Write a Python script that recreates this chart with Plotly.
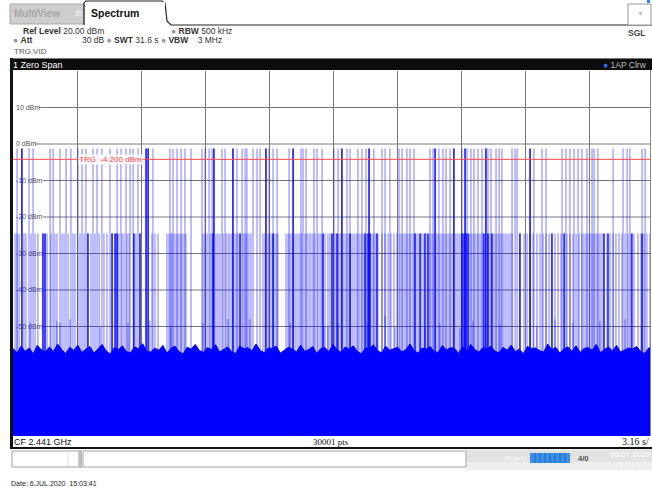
import plotly.graph_objects as go

W, H = 652, 495

# ---------------- data (time in s, level in dBm) ----------------
SWEEP_TIME = 31.6
REF_LEVEL = 20.0
BOTTOM_LEVEL = -80.0
TRG_LEVEL = -4.2
HIGH_LEVEL = -1.2
MID_LEVEL = -24.5
Y_TICKS = [10, 0, -10, -20, -30, -40, -50, -60, -70]
Y_TICK_TEXT = ["10 dBm", "0 dBm", "-10 dBm", "-20 dBm", "-30 dBm", "-40 dBm", "-50 dBm", "-60 dBm", "-70 dBm"]

# bursts reaching about -1 dBm
high_burst_t = [0.20, 0.44, 0.79, 0.99, 1.83, 1.98, 2.32, 2.62, 2.86, 3.21, 3.41, 3.60, 3.95, 4.15, 4.39, 4.79, 5.14,
                5.33, 5.58, 5.78, 5.93, 6.17, 6.57, 6.67, 6.91, 7.75, 7.90, 8.10, 8.30, 8.49, 8.79, 9.33, 9.48, 9.68,
                9.83, 9.92, 10.32, 10.47, 10.86, 11.06, 11.31, 11.46, 11.55, 11.85, 12.05, 12.20, 12.49, 12.64, 12.84,
                13.04, 13.63, 13.83, 14.22, 14.32, 14.47, 14.86, 15.01, 15.26, 15.85, 16.05, 16.24, 16.49, 16.64,
                17.03, 17.23, 17.43, 17.58, 17.82, 18.22, 18.37, 18.61, 19.06, 19.21, 19.45, 19.60, 19.80, 20.59,
                20.74, 20.84, 21.03, 21.23, 21.38, 21.58, 21.77, 22.17, 22.32, 22.42, 22.61, 22.76, 22.96, 23.16,
                23.35, 23.45, 23.60, 23.85, 24.00, 24.14, 24.64, 24.79, 24.89, 25.53, 25.72, 26.12, 26.32, 27.11,
                27.30, 27.50, 27.70, 27.90, 28.09, 28.34, 28.59, 28.69, 28.88, 29.63, 30.12, 30.32, 30.46, 31.06,
                31.21]
high_burst_strong_t = [0.44, 6.57, 6.67, 9.92, 10.86, 12.49, 13.83, 16.24, 17.58, 20.84, 21.77, 22.32, 23.35, 25.53]

# bursts reaching about -24.5 dBm
mid_burst_t = [0.10, 0.20, 0.30, 0.54, 0.64, 0.89, 1.09, 1.23, 1.48, 1.58, 1.68, 1.88, 2.07, 2.17, 2.42, 2.52, 2.72,
               2.96, 3.06, 3.31, 3.51, 3.70, 3.85, 4.05, 4.25, 4.49, 4.64, 4.89, 5.04, 5.14, 5.23,
               5.38, 5.48, 5.63, 5.73, 5.97, 6.07, 6.27, 6.86, 7.01, 7.16, 7.60, 7.70, 7.80, 7.85, 7.95, 8.05, 8.15,
               8.25, 8.34, 8.44, 8.54, 9.38, 9.48, 9.58, 9.73, 9.83, 10.02, 10.12, 10.22, 10.37,
               10.52, 10.62, 10.71, 10.81, 10.91, 11.01, 11.11, 11.21, 11.36, 11.46, 11.55, 11.65, 11.75, 12.34,
               12.44, 12.59, 12.69, 12.79, 12.89, 12.99, 13.08, 13.48, 13.58, 13.68, 13.78, 13.87, 13.97, 14.07,
               14.17, 14.27, 14.42, 14.52, 14.62, 14.71, 14.81, 14.91, 15.06, 15.16, 15.26, 15.41,
               15.55, 15.65, 15.75, 15.85, 15.95, 16.05, 16.15, 16.24, 16.34, 16.44, 16.54, 16.64, 16.74, 16.84,
               16.94, 17.03, 17.13, 17.23, 17.33, 17.43, 17.53, 17.63, 17.73, 17.82, 17.92, 18.02, 18.22, 18.37,
               18.52, 18.66, 18.81, 18.96, 19.11, 19.21, 19.31, 19.40, 19.50, 19.60, 19.70, 19.80, 19.90, 20.00,
               20.10, 20.19, 20.29, 20.39, 20.49, 20.59, 20.69, 20.79,
               20.89, 20.98, 21.08, 21.18, 21.28, 21.38, 21.48, 21.58, 21.68, 21.77, 21.87, 21.97, 22.07, 22.17,
               22.27, 22.37, 22.47, 22.56, 22.66, 22.76, 22.86, 22.96, 23.06, 23.16, 23.25, 23.35, 23.45, 23.55,
               23.65, 23.75, 23.85, 23.95, 24.05, 24.14, 24.24, 24.34, 24.44, 24.54, 24.64, 25.03, 25.23, 25.38,
               25.53, 25.68, 25.87,
               26.02, 26.17, 26.32, 26.47, 26.61, 26.76, 26.91, 27.06, 27.21, 27.35, 27.50, 27.65, 27.80, 27.95,
               28.09, 28.19, 28.29, 28.39, 28.49, 28.59, 28.69, 28.79, 28.88, 28.98, 29.08, 29.18, 29.33, 29.48,
               29.63, 29.77, 29.92, 30.07, 30.22, 30.37, 30.52, 30.66, 30.86, 31.01, 31.16, 31.30, 31.45]
mid_burst_strong_t = [1.48, 1.58, 3.70, 4.89, 5.04, 5.14, 5.97, 6.27, 9.88, 11.21, 12.84, 15.31, 15.75, 16.00, 16.64,
                      17.38, 17.53, 17.63, 17.97, 19.85, 20.10, 20.34, 20.49, 22.17, 22.27, 22.37, 22.47, 23.25,
                      23.45, 23.65, 25.03, 26.61, 27.21, 29.18, 29.38, 30.56, 31.06]

# small spikes just above the noise floor
low_spike_t = [0.84, 2.17, 2.32, 2.81, 4.30, 5.68, 6.76, 7.80, 9.38, 10.62, 11.70, 13.68, 15.36, 15.55, 16.05,
               17.48, 18.37, 18.86, 20.34, 21.08, 22.07, 22.71, 24.05, 25.87, 26.76, 27.65, 28.98, 30.22, 31.06]
low_spike_db = [-49.0, -48.5, -49.0, -48.0, -50.0, -49.0, -48.5, -50.0, -49.0, -48.0, -48.0, -49.0, -50.0, -50.0,
                -49.0, -49.0, -47.0, -50.0, -50.0, -49.0, -50.5, -48.5, -49.5, -50.0, -48.0, -49.0, -48.5, -48.0,
                -50.0]

# noise floor, read every 0.2 s
NOISE_STEP = 0.2
noise_floor_db = [
    -56.0, -57.2, -55.4, -56.8, -55.9, -57.5, -55.2, -56.4, -57.0, -55.6,
    -56.9, -54.8, -56.3, -57.4, -55.7, -56.6, -55.1, -57.1, -56.2, -55.5,
    -57.3, -56.0, -54.9, -56.7, -57.6, -55.8, -56.4, -55.3, -56.9, -57.2,
    -55.6, -56.1, -54.7, -56.8, -57.0, -55.9, -56.5, -55.2, -57.3, -56.0,
    -55.4, -56.9, -57.5, -55.7, -56.2, -54.9, -56.6, -57.1, -55.8, -56.3,
    -55.0, -57.0, -56.4, -55.6, -56.9, -57.4, -55.3, -56.1, -55.8, -56.7,
    -54.8, -56.5, -57.2, -55.9, -56.0, -55.4, -57.3, -56.6, -55.7, -56.2,
    -57.0, -55.1, -56.8, -56.3, -55.5, -57.4, -56.0, -55.8, -56.9, -54.9,
    -56.4, -57.1, -55.6, -56.2, -55.3, -56.8, -57.5, -55.9, -56.1, -55.0,
    -56.7, -57.2, -55.4, -56.5, -56.0, -55.7, -57.0, -56.3, -54.8, -56.6,
    -57.3, -55.9, -56.2, -55.5, -56.9, -57.1, -55.2, -56.4, -55.8, -56.0,
    -57.4, -55.6, -56.7, -54.9, -56.3, -57.0, -55.8, -56.1, -55.4, -56.8,
    -57.2, -55.7, -56.5, -55.1, -56.9, -56.2, -57.5, -55.5, -56.0, -55.9,
    -56.6, -57.0, -54.8, -56.4, -55.7, -57.3, -56.1, -55.6, -56.8, -55.3,
    -57.1, -56.0, -55.8, -56.5, -54.9, -57.2, -56.3, -55.6, -56.7, -55.2,
    -57.0, -56.4, -55.9, -56.1, -55.5, -56.9, -57.4, -55.8, -56.2]

# ---------------- helpers ----------------
BLUE = "rgb(0,0,255)"
LIGHT = "rgba(0,0,255,0.40)"
GRID = "rgb(120,120,120)"
SANS = "Liberation Sans"


def px(x):
    return x / W


def py(y):
    return 1 - y / H


def vlines(ts, tops, bottom=-60.0):
    xs, ys = [], []
    for t, top in zip(ts, tops):
        xs += [t, t, None]
        ys += [bottom, top, None]
    return xs, ys


fig = go.Figure()

noise_t = [i * NOISE_STEP for i in range(len(noise_floor_db))]
fig.add_trace(go.Scatter(x=[0, SWEEP_TIME], y=[BOTTOM_LEVEL - 5, BOTTOM_LEVEL - 5], mode="lines",
                         line=dict(width=0), hoverinfo="skip", showlegend=False))
fig.add_trace(go.Scatter(x=noise_t, y=noise_floor_db, mode="lines", fill="tonexty", fillcolor=BLUE,
                         line=dict(color=BLUE, width=1), showlegend=False))

x, y = vlines(mid_burst_t, [MID_LEVEL] * len(mid_burst_t))
fig.add_trace(go.Scatter(x=x, y=y, mode="lines", line=dict(color=LIGHT, width=1.3), showlegend=False))
x, y = vlines(high_burst_t, [HIGH_LEVEL] * len(high_burst_t))
fig.add_trace(go.Scatter(x=x, y=y, mode="lines", line=dict(color=LIGHT, width=1.3), showlegend=False))
x, y = vlines(low_spike_t, low_spike_db)
fig.add_trace(go.Scatter(x=x, y=y, mode="lines", line=dict(color="rgba(0,0,255,0.5)", width=1), showlegend=False))
x, y = vlines(mid_burst_strong_t, [MID_LEVEL] * len(mid_burst_strong_t))
fig.add_trace(go.Scatter(x=x, y=y, mode="lines", line=dict(color=BLUE, width=1.3), showlegend=False))
x, y = vlines(high_burst_strong_t, [HIGH_LEVEL] * len(high_burst_strong_t))
fig.add_trace(go.Scatter(x=x, y=y, mode="lines", line=dict(color=BLUE, width=1.3), showlegend=False))

X_END = SWEEP_TIME * (650 - 13) / 640.0

shapes = []
annots = []


def rect(x0, y0, x1, y1, fill, line=None, lw=0, layer="above"):
    shapes.append(dict(type="rect", xref="paper", yref="paper", x0=px(x0), x1=px(x1), y0=py(y1), y1=py(y0),
                       fillcolor=fill, line=dict(color=line or fill, width=lw), layer=layer))


def hline(x0, x1, y, color, lw=1):
    shapes.append(dict(type="line", xref="paper", yref="paper", x0=px(x0), x1=px(x1), y0=py(y), y1=py(y),
                       line=dict(color=color, width=lw)))


def vline(x, y0, y1, color, lw=1):
    shapes.append(dict(type="line", xref="paper", yref="paper", x0=px(x), x1=px(x), y0=py(y0), y1=py(y1),
                       line=dict(color=color, width=lw)))


def path(points, color, lw=1, fill=None):
    d = "M " + " L ".join(f"{px(a):.5f},{py(b):.5f}" for a, b in points)
    shapes.append(dict(type="path", xref="paper", yref="paper", path=d,
                       line=dict(color=color, width=lw), fillcolor=fill or "rgba(0,0,0,0)"))


def text(x, y, s, size=8.5, color="#222", anchor="left", family=SANS, bg=None):
    annots.append(dict(xref="paper", yref="paper", x=px(x), y=py(y), text=s, showarrow=False,
                       xanchor=anchor, yanchor="middle", font=dict(size=size, color=color, family=family),
                       bgcolor=bg, borderpad=0))


# ---- horizontal grid lines, starting right after their in-plot labels ----
for val, lab in zip(Y_TICKS, Y_TICK_TEXT):
    shapes.append(dict(type="line", xref="paper", yref="y", x0=px(15 + 4.0 * len(lab)), x1=px(650),
                       y0=val, y1=val, line=dict(color=GRID, width=1), layer="below"))

# ---- top tabs ----
rect(10, 4, 84, 24, "#cecece", "#a8a8a8", 1)
text(13, 14, "<b>MultiView</b>", 10, "#a6a6a6")
text(74, 14, "⊞", 8, "#f4f4f4")
path([(84, 25), (84, 3), (86, 1), (162, 1), (165, 3), (167, 21), (171, 25), (652, 25)], "#222", 1.2, None)
rect(85, 2, 165, 24.5, "white")
text(90, 13, "<b>Spectrum</b>", 10.5, "#111")
rect(628, 4, 651, 25, "white", "#9a9a9a", 1)
text(640, 14, "▼", 7, "#bbbbbb", "center")
rect(647, 0, 650, 3, "#2a86ff")

# ---- info lines ----
text(22, 31.5, "<b>Ref Level</b> 20.00 dBm", 8.5, "#333")
text(170, 31.5, "<span style='color:#9a9a9a'>●</span> <b>RBW</b> 500 kHz", 8.5, "#333")
text(12, 40.5, "<span style='color:#9a9a9a'>●</span> <b>Att</b>", 8.5, "#333")
text(81, 40.5, "30 dB <span style='color:#9a9a9a'>●</span> <b>SWT</b> 31.6 s "
               "<span style='color:#9a9a9a'>●</span> <b>VBW</b>    3 MHz", 8.5, "#333")
text(13, 51.5, "TRG:VID", 8, "#555")
text(646, 33, "<b>SGL</b>", 8.5, "#444", "right")

# ---- title bar ----
rect(10, 58, 652, 70, "#0c0c0c")
hline(10, 652, 58.5, "#7a7a7a", 1)
text(12, 64.5, "1 Zero Span", 9, "white")
text(648, 64.5, "<span style='color:#2a6cff'>●</span> 1AP Clrw", 8.5, "#bdbdbd", "right")

# ---- frame ----
rect(10, 58, 13, 449, "#111")
vline(650.5, 70, 436, "#888", 1)
rect(13, 436, 652, 447, "white")
hline(10, 652, 448, "#111", 2)
text(13, 441.5, "CF 2.441 GHz", 9, "#111")
text(331, 441.5, "30001 pts", 9, "#111", "center", "Liberation Serif")
text(650, 441.5, "3.16 s/", 10, "#111", "right", "Liberation Serif")

# ---- status bar ----
rect(466, 449.5, 652, 470, "#e2e2e2")
rect(466, 462, 652, 470, "#eeeeee")
shapes.append(dict(type="rect", xref="paper", yref="paper", x0=px(12), x1=px(79), y0=py(467), y1=py(451),
                   fillcolor="white", line=dict(color="#a0a0a0", width=1)))
vline(68, 452, 466, "#dddddd", 1)
rect(79, 450, 82, 468, "#bdbdbd")
shapes.append(dict(type="rect", xref="paper", yref="paper", x0=px(83), x1=px(466), y0=py(467), y1=py(451),
                   fillcolor="white", line=dict(color="#a0a0a0", width=1)))
text(515, 458, "Ready", 8, "#f6f6f6", "center")
rect(530, 453, 570, 463, "#3a8ee8")
for sx in [535, 540, 545, 550, 555, 560, 565]:
    vline(sx, 453, 463, "#1c5fb0", 0.8)
text(577, 458, "<b>4/0</b>", 7.5, "#555")
text(630, 454, "06.07.2020", 8, "white", "center")
text(630, 464, "15:03:41", 8, "#f4f4f4", "center")

text(10, 483, "Date: 6.JUL.2020  15:03:41", 7, "#222")

# ---- trigger line ----
shapes.append(dict(type="line", xref="x", yref="y", x0=0, x1=X_END, y0=TRG_LEVEL, y1=TRG_LEVEL,
                   line=dict(color="rgb(255,70,70)", width=1), layer="above"))
annots.append(dict(xref="x", yref="y", x=3.21, y=TRG_LEVEL, text="TRG  -4.200 dBm", showarrow=False,
                   xanchor="left", yanchor="middle", font=dict(size=8, color="rgb(255,70,70)", family=SANS),
                   bgcolor="rgba(255,255,255,0.85)", borderpad=0))

fig.update_layout(
    width=W, height=H, autosize=False,
    margin=dict(l=0, r=0, t=0, b=0),
    paper_bgcolor="white", plot_bgcolor="white",
    showlegend=False,
    shapes=shapes, annotations=annots,
    xaxis=dict(domain=[px(13), px(650)], range=[0, X_END], showticklabels=False, ticks="",
               tick0=0, dtick=SWEEP_TIME / 10, showgrid=True, gridcolor=GRID, gridwidth=1,
               zeroline=False, showline=False, layer="below traces", fixedrange=True),
    yaxis=dict(domain=[py(436), py(71)], range=[BOTTOM_LEVEL, REF_LEVEL], tickmode="array",
               tickvals=Y_TICKS, ticktext=Y_TICK_TEXT, ticklabelposition="inside",
               tickfont=dict(size=7, color="#555", family=SANS), showgrid=False,
               zeroline=False, showline=False, ticks="", layer="below traces",
               fixedrange=True),
)

fig.write_html("out.html")
